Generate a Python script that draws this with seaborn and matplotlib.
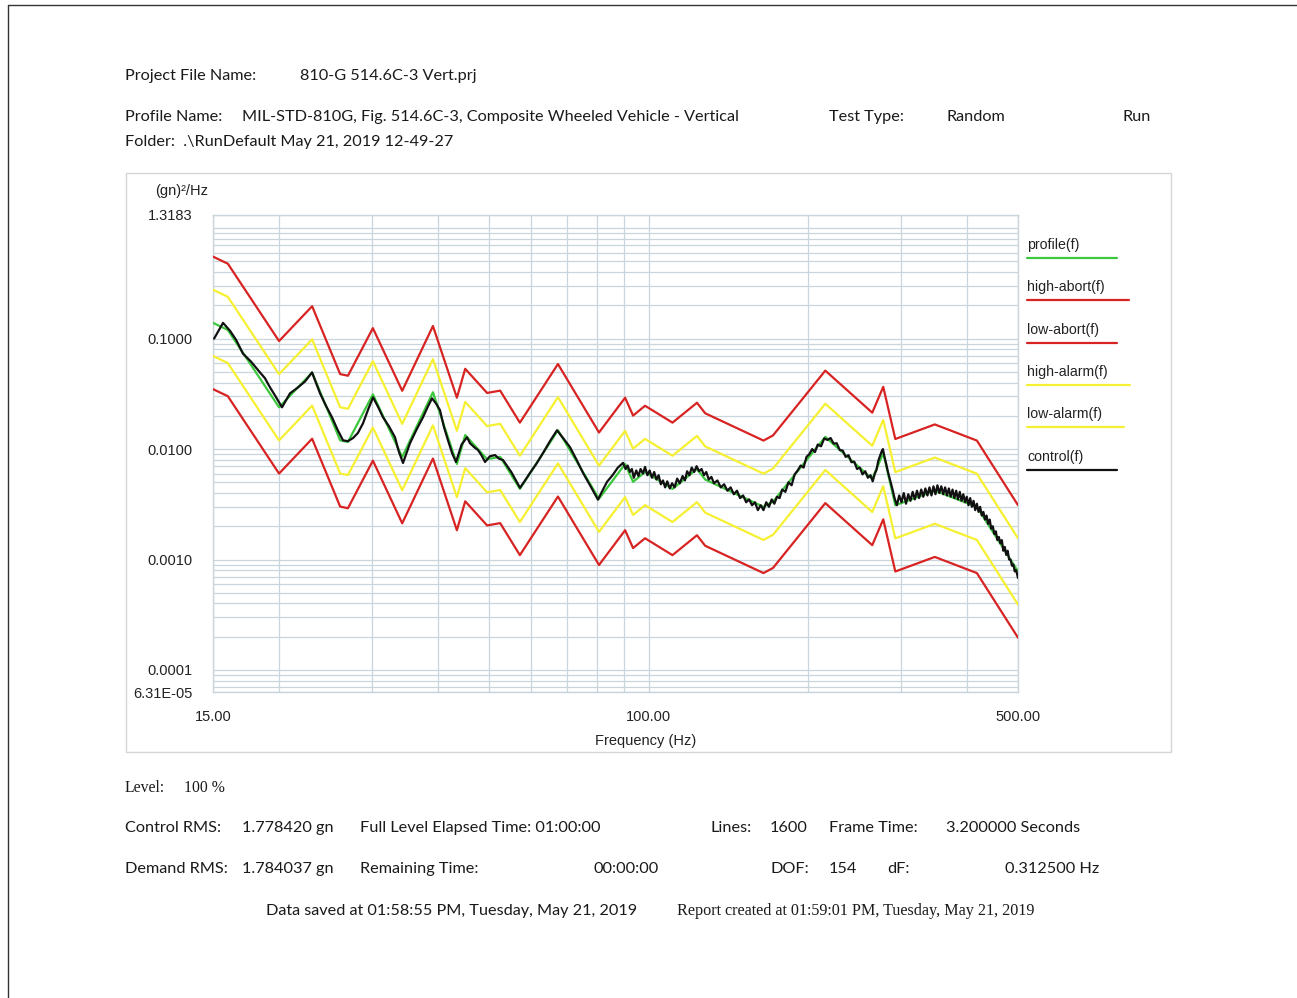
import matplotlib
matplotlib.use("Agg")
import numpy as np
import pandas as pd
import matplotlib.pyplot as plt
from matplotlib.lines import Line2D
from matplotlib.patches import Rectangle
from matplotlib.ticker import FixedLocator, LogLocator, NullFormatter
import seaborn as sns

# Reference profile breakpoints (Hz, (gn)^2/Hz)
profile_freq = [15, 16, 20, 23.1, 26.1, 27, 30.1, 34.2, 39.1, 43.4, 45, 49.5,
                52.4, 57.1, 67.4, 80.6, 90.3, 93.5, 98.5, 111, 123.5, 128,
                165, 172, 216, 265, 278, 293, 348, 418, 500]
profile_psd = [0.139, 0.120, 0.0239, 0.0494, 0.0120, 0.0116, 0.0313, 0.00847,
               0.0327, 0.00733, 0.0134, 0.0081, 0.0085, 0.00436, 0.0148,
               0.00355, 0.00733, 0.00505, 0.0062, 0.00436, 0.0066, 0.0053,
               0.0030, 0.00334, 0.0129, 0.00537, 0.0092, 0.0031, 0.0042,
               0.0030, 0.00078]

# Tolerance bands around the profile, in dB
alarm_db = 3.0
abort_db = 6.0

# Measured control spectrum
control_freq = [
    15.07, 15.67, 16.15, 16.6, 17.09, 17.7, 18.41, 18.8, 19.23, 19.7, 20.26,
    20.98, 21.72, 22.4, 23.09, 23.91, 24.5, 25.19, 25.8, 26.43, 27.0, 27.61,
    28.2, 28.83, 29.5, 30.12, 30.8, 31.46, 32.3, 33.14, 33.7, 34.32, 35.38,
    36.4, 37.44, 38.2, 38.94, 39.6, 40.32, 41.0, 41.75, 42.5, 43.23, 44.3,
    45.36, 45.95, 46.8, 47.58, 48.3, 49.06, 50.1, 51.24, 52.1, 53.05, 55.0,
    57.13, 58.4, 59.67, 61.4, 63.15, 65.1, 67.12, 69.0, 71.03, 73.1, 75.18,
    77.7, 80.24, 81.8, 83.46, 85.5, 87.5,
    89.5, 90.5, 91.3, 92.2, 93.0, 93.8, 94.8, 95.7, 96.6, 97.6, 98.5, 99.5,
    100.5, 101.5, 102.5, 103.5, 104.5, 105.5, 106.5, 107.5, 108.5, 109.7,
    110.8, 112.0, 113.3, 114.6, 116.0, 117.2, 118.3, 119.5, 120.7, 122.0,
    123.3, 124.6, 126.0, 127.3, 128.6, 130.0, 131.5, 133.0, 135.0, 137.0,
    139.0, 141.0, 143.0, 145.0, 147.0, 149.0, 151.0, 153.0, 155.0, 157.0,
    159.0, 161.0, 163.0, 165.0, 167.0, 169.0, 171.0, 173.0, 175.0, 177.0,
    179.0, 181.5, 184.0, 186.5, 189.0, 191.5, 194.0, 196.5, 199.0, 201.5,
    204.0, 206.5, 209.0, 212.0, 215.0, 218.0, 221.0, 224.0, 227.0, 230.0,
    233.0, 236.0, 239.0, 242.0, 245.0, 248.0, 251.0, 254.0, 257.0, 260.0,
    263.0, 265.5, 268.0, 270.0, 272.0, 274.0, 276.0, 277.6, 279.5, 281.5,
    283.8, 286.5, 289.5, 292.0, 295.0, 298.0, 301.0, 304.0, 307.0, 310.0,
    313.0, 316.0, 319.0, 322.0, 325.0, 328.0, 331.0, 334.0, 337.0, 340.0,
    343.0, 346.0, 349.0, 352.0, 355.0, 358.0, 361.0, 364.0, 367.0, 370.0,
    373.0, 376.0, 379.0, 382.0, 385.0, 388.0, 391.0, 394.0, 397.0, 400.0,
    403.0, 406.0, 409.0, 412.0, 415.0, 418.0, 421.0, 424.0, 427.0, 430.0,
    433.0, 436.0, 439.0, 442.0, 445.0, 448.0, 451.0, 454.0, 457.0, 460.0,
    463.0, 466.0, 469.0, 472.0, 475.0, 478.0, 481.0, 484.0, 487.0, 490.0,
    493.0, 496.0, 500.0]
control_psd = [
    0.100, 0.139, 0.118, 0.097, 0.0732, 0.0620, 0.0494, 0.0440, 0.0362,
    0.0300, 0.0239, 0.0320, 0.0362, 0.0410, 0.0494, 0.0320, 0.0250, 0.0194,
    0.0150, 0.0120, 0.0118, 0.0126, 0.0140, 0.0171, 0.0230, 0.0294, 0.0240,
    0.0194, 0.0160, 0.0128, 0.0095, 0.00748, 0.0113, 0.0150, 0.0194, 0.0240,
    0.0288, 0.0260, 0.0225, 0.0160, 0.0120, 0.0092, 0.00764, 0.0110, 0.0128,
    0.0113, 0.0104, 0.0098, 0.0088, 0.00764, 0.0086, 0.00883, 0.0082,
    0.00796, 0.0062, 0.00446, 0.0052, 0.00608, 0.0074, 0.0092, 0.0118,
    0.0148, 0.0125, 0.0104, 0.0080, 0.00608, 0.0046, 0.00348, 0.0042,
    0.00505, 0.0058, 0.0068,
    0.0075, 0.0066, 0.0071, 0.0062, 0.0066, 0.0055, 0.0064, 0.0057, 0.0066,
    0.0060, 0.0069, 0.0058, 0.0064, 0.0055, 0.0062, 0.0053, 0.0058, 0.0048,
    0.0052, 0.0045, 0.0051, 0.0044, 0.0049, 0.0045, 0.0054, 0.0049, 0.0057,
    0.0052, 0.0063, 0.0058, 0.0068, 0.0062, 0.0070, 0.0063, 0.0066, 0.0058,
    0.0062, 0.0053, 0.0056, 0.0049, 0.0052, 0.0045, 0.0048, 0.0042, 0.0045,
    0.0039, 0.0042, 0.0036, 0.0038, 0.0033, 0.0035, 0.0031, 0.0033, 0.0028,
    0.0031, 0.0028, 0.0033, 0.0030, 0.0035, 0.0032, 0.0037, 0.0036, 0.0043,
    0.0041, 0.0050, 0.0047, 0.0059, 0.0064, 0.0071, 0.0068, 0.0085, 0.0090,
    0.0100, 0.0094, 0.0110, 0.0106, 0.0125, 0.0121, 0.0126, 0.0112, 0.0113,
    0.0098, 0.0097, 0.0085, 0.0088, 0.0076, 0.0077, 0.0066, 0.0068, 0.0059,
    0.0063, 0.0055, 0.0058, 0.0051, 0.0060, 0.0065, 0.0078, 0.0086, 0.0095,
    0.0100, 0.0085, 0.0074, 0.0062, 0.0052, 0.0043, 0.0036, 0.0031, 0.0038,
    0.0033, 0.0040, 0.0032, 0.0039, 0.0034, 0.0041, 0.0035, 0.0042, 0.0036,
    0.0043, 0.0037, 0.0044, 0.0038, 0.0045, 0.0038, 0.0046, 0.0039, 0.0047,
    0.0040, 0.0046, 0.0039, 0.0045, 0.0038, 0.0044, 0.0037, 0.0043, 0.0036,
    0.0042, 0.0035, 0.0041, 0.0034, 0.0039, 0.0033, 0.0037, 0.0031, 0.0036,
    0.0030, 0.0034, 0.0028, 0.0032, 0.0027, 0.0030, 0.0025, 0.0027, 0.0023,
    0.0025, 0.0021, 0.0023, 0.0019, 0.0020, 0.0017, 0.0018, 0.0015, 0.0016,
    0.0014, 0.0015, 0.0012, 0.0013, 0.0011, 0.0012, 0.0010, 0.0010, 0.00088,
    0.00090, 0.00078, 0.00080, 0.00068]

y_ticks = [1.3183, 0.1, 0.01, 0.001, 0.0001, 6.31e-05]
y_tick_labels = ["1.3183", "0.1000", "0.0100", "0.0010", "0.0001", "6.31E-05"]
x_ticks = [15, 100, 500]
x_tick_labels = ["15.00", "100.00", "500.00"]

series_names = ["profile(f)", "high-abort(f)", "low-abort(f)",
                "high-alarm(f)", "low-alarm(f)", "control(f)"]
series_colors = {"profile(f)": "#3cc83c", "high-abort(f)": "#d82323",
                 "low-abort(f)": "#d82323", "high-alarm(f)": "#f6f032",
                 "low-alarm(f)": "#f6f032", "control(f)": "#111111"}

prof = np.array(profile_psd)
frames = [
    pd.DataFrame({"freq": profile_freq, "psd": prof * 10 ** (abort_db / 10), "series": "high-abort(f)"}),
    pd.DataFrame({"freq": profile_freq, "psd": prof / 10 ** (abort_db / 10), "series": "low-abort(f)"}),
    pd.DataFrame({"freq": profile_freq, "psd": prof * 10 ** (alarm_db / 10), "series": "high-alarm(f)"}),
    pd.DataFrame({"freq": profile_freq, "psd": prof / 10 ** (alarm_db / 10), "series": "low-alarm(f)"}),
    pd.DataFrame({"freq": profile_freq, "psd": prof, "series": "profile(f)"}),
    pd.DataFrame({"freq": control_freq, "psd": control_psd, "series": "control(f)"}),
]
df = pd.concat(frames, ignore_index=True)

sns.set_theme(style="white")
W, H = 1297, 998
fig = plt.figure(figsize=(W / 100, H / 100), dpi=100)
fig.patch.set_facecolor("white")


def fx(px):
    return px / W


def fy(py):
    return 1 - py / H


ax = fig.add_axes([fx(213), fy(692), fx(1018) - fx(213), fy(215) - fy(692)])
ax.set_xscale("log")
ax.set_yscale("log")

grid_c = "#c9d5dc"
draw_order = ["high-abort(f)", "low-abort(f)", "high-alarm(f)", "low-alarm(f)",
              "profile(f)", "control(f)"]
for name in draw_order:
    sub = df[df["series"] == name]
    sns.lineplot(data=sub, x="freq", y="psd", color=series_colors[name],
                 estimator=None, sort=False, ax=ax, legend=False,
                 linewidth=1.6, zorder=3)

ax.set_xlim(15, 500)
ax.set_ylim(6.31e-05, 1.3183)

ax.yaxis.set_major_locator(FixedLocator(y_ticks))
ax.set_yticklabels(y_tick_labels)
ax.yaxis.set_minor_locator(LogLocator(base=10, subs=np.arange(1, 10), numticks=30))
ax.yaxis.set_minor_formatter(NullFormatter())
ax.xaxis.set_major_locator(FixedLocator(x_ticks))
ax.set_xticklabels(x_tick_labels)
ax.xaxis.set_minor_locator(LogLocator(base=10, subs=np.arange(1, 10), numticks=30))
ax.xaxis.set_minor_formatter(NullFormatter())

ax.grid(True, which="both", color=grid_c, linewidth=0.9)
ax.set_axisbelow(True)
for s in ax.spines.values():
    s.set_color(grid_c)
    s.set_linewidth(1.0)

ax.tick_params(axis="y", which="major", length=5, color=grid_c, pad=10,
               labelsize=10.5, labelcolor="#222222")
ax.tick_params(axis="y", which="minor", length=0)
ax.tick_params(axis="x", which="both", length=0, pad=13, labelsize=10.5,
               labelcolor="#222222")
for lbl in ax.get_xticklabels() + ax.get_yticklabels():
    lbl.set_family(["Liberation Sans", "DejaVu Sans"])
ax.set_xlabel("")
ax.set_ylabel("")

sans = ["Liberation Sans", "DejaVu Sans"]
fig.text(fx(646), fy(741), "Frequency (Hz)", ha="center", va="center",
         fontsize=10.5, family=sans, color="#222222")
fig.text(fx(182), fy(191), "(gn)\u00b2/Hz", ha="center", va="center",
         fontsize=10.5, family=sans, color="#222222")

# Legend drawn as labels with underlines
leg_y = [245, 287, 330, 372, 414, 457]
leg_end = [1117, 1129, 1117, 1130, 1124, 1117]
for name, y, xe in zip(series_names, leg_y, leg_end):
    fig.text(fx(1027), fy(y), name, ha="left", va="center", fontsize=10.2,
             family=sans, color="#222222")
    fig.add_artist(Line2D([fx(1027), fx(xe)], [fy(y + 13), fy(y + 13)],
                          color=series_colors[name], linewidth=1.6))

# Chart panel frame and page border
fig.add_artist(Rectangle((fx(126), fy(752)), fx(1171) - fx(126), fy(173) - fy(752),
                         fill=False, edgecolor="#d6d6d6", linewidth=1.0))
fig.add_artist(Line2D([fx(8), fx(8)], [fy(5), 0], color="#333333", linewidth=1.0))
fig.add_artist(Line2D([fx(8), 1], [fy(5), fy(5)], color="#333333", linewidth=1.0))

hdr = ["Lato", "DejaVu Sans"]
serif = ["Liberation Serif", "DejaVu Serif"]
hs = 11.7


def put(x, y, s, fam=hdr, size=hs):
    fig.text(fx(x), fy(y), s, ha="left", va="center", fontsize=size,
             family=fam, color="#1a1a1a")


put(125, 76, "Project File Name:")
put(300, 76, "810-G 514.6C-3 Vert.prj")
put(125, 117, "Profile Name:")
put(242, 117, "MIL-STD-810G, Fig. 514.6C-3, Composite Wheeled Vehicle - Vertical")
put(829, 117, "Test Type:")
put(946, 117, "Random")
put(1122, 117, "Run")
put(125, 142, "Folder:  .\\RunDefault May 21, 2019 12-49-27")

put(125, 788, "Level:", fam=serif, size=11.3)
put(184, 788, "100 %", fam=serif, size=11.3)
put(125, 828, "Control RMS:")
put(242, 828, "1.778420 gn")
put(360, 828, "Full Level Elapsed Time: 01:00:00")
put(711, 828, "Lines:")
put(770, 828, "1600")
put(829, 828, "Frame Time:")
put(946, 828, "3.200000 Seconds")
put(125, 869, "Demand RMS:")
put(242, 869, "1.784037 gn")
put(360, 869, "Remaining Time:")
put(594, 869, "00:00:00")
put(770, 869, "DOF:")
put(829, 869, "154")
put(887, 869, "dF:")
put(1005, 869, "0.312500 Hz")
put(266, 911, "Data saved at 01:58:55 PM, Tuesday, May 21, 2019")
put(677, 911, "Report created at 01:59:01 PM, Tuesday, May 21, 2019", fam=serif, size=11.6)

fig.savefig("out.png", dpi=100, facecolor="white")
